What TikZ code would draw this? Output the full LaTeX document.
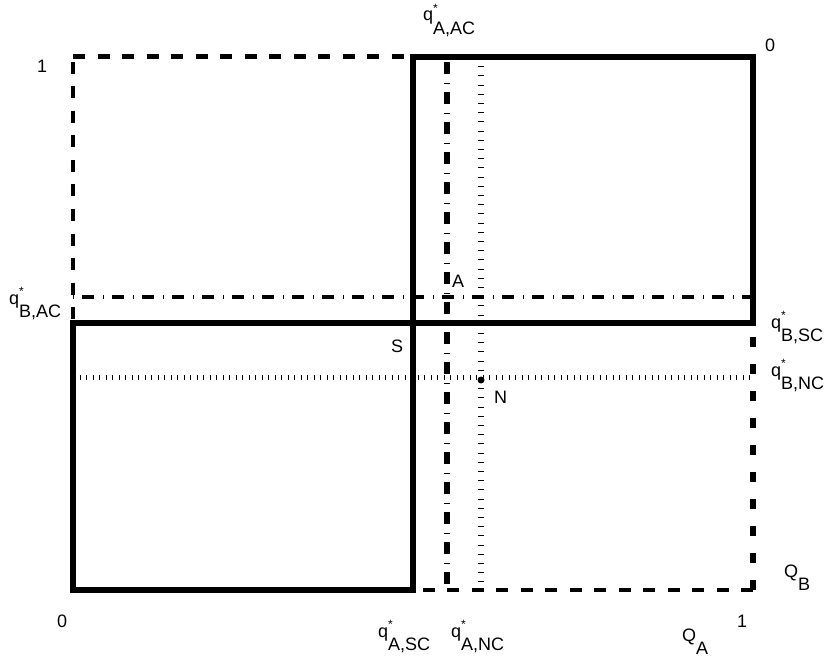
\documentclass[tikz,border=0pt]{standalone}
\usepackage{fontspec}
\setmainfont{Liberation Sans}
\usepackage{tikz}
\usetikzlibrary{positioning}
\newcommand{\qstar}[2]{#1\rlap{\raisebox{0.85ex}{\fontsize{12}{13}\selectfont *}}\raisebox{-1.45ex}{#2}}
\newcommand{\qsub}[2]{#1\raisebox{-1.45ex}{#2}}

\begin{document}
\begin{tikzpicture}[
  x=1pt, y=-1pt,
  lbl/.style={inner sep=0pt, anchor=base west, font=\fontsize{18}{21}\selectfont},
  bordo/.style={dash pattern=on 12pt off 12.5pt},
  bordograsso/.style={line width=6pt, dash pattern=on 10pt off 17pt},
  caixa/.style={line width=5.5pt, line join=miter},
  traco/.style={line width=3.5pt, dash pattern=on 12pt off 9pt on 1pt off 8pt, dash phase=21pt},
  tracograsso/.style={line width=6.5pt, dash pattern=on 12pt off 9pt on 1pt off 8pt, dash phase=25pt},
  pontilhado/.style={line width=6pt, dash pattern=on 1pt off 8.2pt},
  pontilhadoh/.style={line width=5pt, dash pattern=on 1pt off 5.5pt}
]
  \useasboundingbox (0,0) rectangle (826,660);
  % cantos
  \coordinate (o)  at (73,590);
  \coordinate (tl) at (73,57);
  \coordinate (tr) at (753,57);
  \coordinate (br) at (753,590);
  \coordinate (sb) at (413,590);
  \coordinate (st) at (413,57);
  \coordinate (sl) at (73,323);
  \coordinate (sr) at (753,323);
  \coordinate (s)  at (413,323);
  % linhas de referencia
  \coordinate (acb) at (447,590);  \coordinate (act) at (447,57);
  \coordinate (ncb) at (481,590);  \coordinate (nct) at (481,57);
  \coordinate (bal) at (73,297);   \coordinate (bar) at (753,297);
  \coordinate (bnl) at (73,377);   \coordinate (bnr) at (753,377);

  \draw[bordo, line width=5pt] (tl) -- (st);
  \draw[bordo, line width=3.5pt, dash phase=19.5pt] (tl) -- (sl);
  \draw[bordo, line width=4pt] (br) -- (sb);
  \draw[bordograsso] (br) -- (sr);
  \draw[pontilhado] (nct) -- (ncb);
  \draw[pontilhadoh] (bnl) -- (bnr);
  \draw[traco] (bal) -- (bar);
  \draw[tracograsso] (act) -- (acb);
  \draw[caixa] (s) -- (st) -- (tr) -- (sr) -- cycle;
  \draw[caixa] (o) -- (sl) -- (s) -- (sb) -- cycle;
  \fill (481,380) circle (3.5pt) coordinate (n);

  \node[lbl] (um1)   at (37,73)   {1};
  \node[lbl] (zero1) at (57,627)  {0};
  \node[lbl] (um2)   at (737,627) {1};
  \node[lbl] (zero2) at (765,52)  {0};
  \node[lbl] (qaac) at (423,21)  {\qstar{q}{A,AC}};
  \node[lbl] (qbac) at (9,304)   {\qstar{q}{B,AC}};
  \node[lbl] (qbsc) at (771,328) {\qstar{q}{B,SC}};
  \node[lbl] (qbnc) at (771,376) {\qstar{q}{B,NC}};
  \node[lbl] (qasc) at (378,637) {\qstar{q}{A,SC}};
  \node[lbl] (qanc) at (451,637) {\qstar{q}{A,NC}};
  \node[lbl] (qb)   at (784,577) {\qsub{Q}{B}};
  \node[lbl] (qa)   at (682,641) {\qsub{Q}{A}};
  \node[lbl] (ptA)  at (452,287) {A};
  \node[lbl] (ptS)  at (391,352) {S};
  \node[lbl] (ptN)  at (494,403) {N};
\end{tikzpicture}
\end{document}
